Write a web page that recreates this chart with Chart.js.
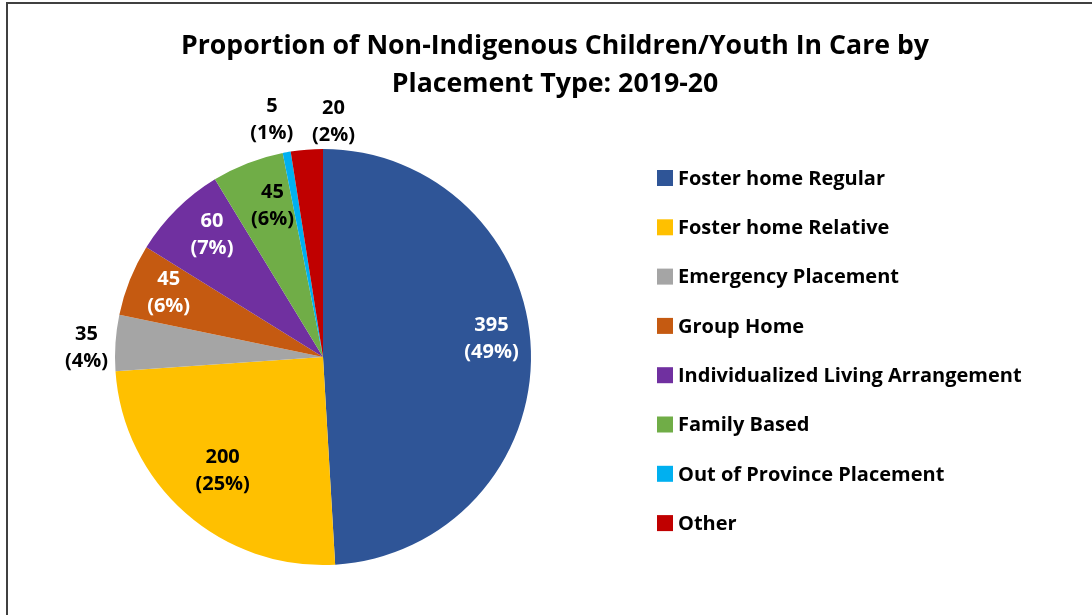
<!DOCTYPE html>
<html>
<head>
<meta charset="utf-8">
<script src="https://cdn.jsdelivr.net/npm/chart.js@4.4.0/dist/chart.umd.min.js"></script>
<style>
  html, body { margin: 0; padding: 0; background: #fff; }
  #wrap { position: relative; width: 1092px; height: 615px; }
</style>
</head>
<body>
<div id="wrap"><canvas id="placementChart" width="1092" height="615"></canvas></div>
<script>
// Chart data
const titleLines = ['Proportion of Non-Indigenous Children/Youth In Care by', 'Placement Type: 2019-20'];
const labels = [
    'Foster home Regular',
    'Foster home Relative',
    'Emergency Placement',
    'Group Home',
    'Individualized Living Arrangement',
    'Family Based',
    'Out of Province Placement',
    'Other'
];
const counts = [395, 200, 35, 45, 60, 45, 5, 20];
const percents = [49, 25, 4, 6, 7, 6, 1, 2];
const colors = ['#2F5597', '#FFC000', '#A5A5A5', '#C55A11', '#7030A0', '#70AD47', '#00B0F0', '#C00000'];
const labelColors = ['#fff', '#000', '#000', '#fff', '#fff', '#000', '#000', '#000'];

// label placement: fraction of radius, plus small pixel nudges
const labelRadius = [0.82, 0.73, 1.14, 0.82, 0.80, 0.79, 1.16, 1.14];
const labelNudge = [[-2, -13], [0, 0], [0, 7], [4, -1], [6, -4], [9, 2], [-9, 0], [29, 1]];

const FONT = '"Open Sans", Calibri, sans-serif';

// frame around the chart + title
const framePlugin = {
    id: 'frame',
    beforeDraw(chart) {
        const ctx = chart.ctx;
        ctx.save();
        ctx.strokeStyle = '#404040';
        ctx.lineWidth = 2;
        ctx.strokeRect(7, 3, 1200, 700);
        ctx.fillStyle = '#000';
        ctx.font = 'bold 26.7px ' + FONT;
        ctx.textAlign = 'center';
        ctx.textBaseline = 'middle';
        ctx.fillText(titleLines[0], 555, 46);
        ctx.fillText(titleLines[1], 555, 84);
        ctx.restore();
    }
};

const sliceLabelPlugin = {
    id: 'sliceLabels',
    afterDatasetsDraw(chart) {
        const ctx = chart.ctx;
        const meta = chart.getDatasetMeta(0);
        ctx.save();
        ctx.font = 'bold 20px ' + FONT;
        ctx.textAlign = 'center';
        ctx.textBaseline = 'middle';
        meta.data.forEach((arc, i) => {
            const p = arc.getProps(['x', 'y', 'startAngle', 'endAngle', 'outerRadius'], true);
            const mid = (p.startAngle + p.endAngle) / 2;
            const r = p.outerRadius * labelRadius[i];
            const x = p.x + Math.cos(mid) * r + labelNudge[i][0];
            const y = p.y + Math.sin(mid) * r + labelNudge[i][1];
            ctx.fillStyle = labelColors[i];
            ctx.fillText(String(counts[i]), x, y - 13.5);
            ctx.fillText('(' + percents[i] + '%)', x, y + 13.5);
        });
        ctx.restore();
    }
};

const legendPlugin = {
    id: 'sideLegend',
    afterDraw(chart) {
        const ctx = chart.ctx;
        ctx.save();
        ctx.font = 'bold 20px ' + FONT;
        ctx.textAlign = 'left';
        ctx.textBaseline = 'middle';
        labels.forEach((label, i) => {
            const y = 178 + i * 49.3;
            ctx.fillStyle = colors[i];
            ctx.fillRect(657, y - 8, 16, 16);
            ctx.fillStyle = '#000';
            ctx.fillText(label, 678, y + 1);
        });
        ctx.restore();
    }
};

new Chart(document.getElementById('placementChart').getContext('2d'), {
    type: 'pie',
    data: {
        labels: labels,
        datasets: [{
            data: counts,
            backgroundColor: colors,
            borderWidth: 0
        }]
    },
    options: {
        responsive: false,
        animation: false,
        layout: {
            padding: { left: 115, right: 561, top: 149, bottom: 50 }
        },
        plugins: {
            legend: { display: false },
            tooltip: { enabled: false },
            title: { display: false }
        }
    },
    plugins: [framePlugin, sliceLabelPlugin, legendPlugin]
});
</script>
</body>
</html>
